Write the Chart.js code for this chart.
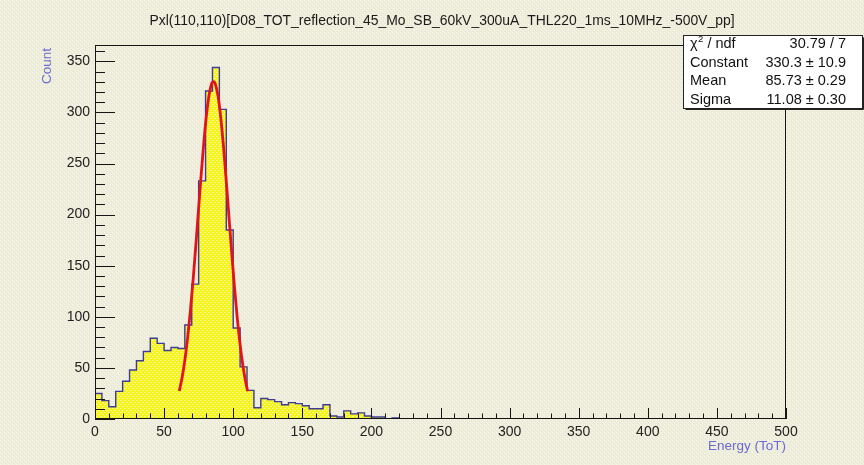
<!DOCTYPE html>
<html>
<head>
<meta charset="utf-8">
<script src="https://cdn.jsdelivr.net/npm/chart.js@4.4.1/dist/chart.umd.min.js"></script>
<style>
  html, body { margin: 0; padding: 0; background: #efeddb; }
  canvas { display: block; }
</style>
</head>
<body>
<canvas id="histo" width="864" height="465"></canvas>
<script>
// ToT spectrum, 100 bins of width 5 from 0 to 500
const binWidth = 5;
const counts = [
    25, 18, 12, 27, 37, 48, 57, 66, 79, 74,
    67, 70, 69, 92, 132, 233, 321, 344, 303, 185,
    89, 51, 28, 11, 20, 19, 17, 14, 16, 15,
    13, 10, 10, 14, 3, 2, 8, 5, 6, 3,
    2, 2, 0, 1, 0, 0, 0, 0, 0, 0,
    0, 0, 0, 0, 0, 0, 0, 0, 0, 0,
    0, 0, 0, 0, 0, 0, 0, 0, 0, 0,
    0, 0, 0, 0, 0, 0, 0, 0, 0, 0,
    0, 0, 0, 0, 0, 0, 0, 0, 0, 0,
    0, 0, 0, 0, 0, 0, 0, 0, 0, 0
];

// Gaussian fit curve (sampled)
const fitX = [61, 63, 65, 67, 69, 71, 73, 75, 77, 79, 81, 83, 85, 86, 87, 89, 91, 93, 95, 97, 99, 101, 103, 105, 107, 109, 110.5];
const fitY = [27.4, 40.3, 57.4, 79.1, 105.7, 136.5, 170.7, 206.7, 242.2, 274.7, 301.5, 320.4, 329.6, 330.2, 328.1, 316.2, 295.0, 266.3, 232.8, 196.9, 161.2, 127.8, 98.0, 72.8, 52.3, 36.4, 27.1];

const xMin = 0, xMax = 500;
const yMin = 0, yMax = 366;

const title = 'Pxl(110,110)[D08_TOT_reflection_45_Mo_SB_60kV_300uA_THL220_1ms_10MHz_-500V_pp]';
const statRows = [
    ['chi2', '30.79 / 7'],
    ['Constant', '330.3 \u00b1 10.9'],
    ['Mean', '85.73 \u00b1 0.29'],
    ['Sigma', '11.08 \u00b1 0.30']
];

const FONT = '"Liberation Sans", Arial, Helvetica, sans-serif';

// small tiled patterns for the canvas texture and the histogram fill
function makePattern(base, dots) {
    const c = document.createElement('canvas');
    c.width = 4; c.height = 4;
    const g = c.getContext('2d');
    g.fillStyle = base;
    g.fillRect(0, 0, 4, 4);
    dots.forEach(([x, y, col]) => {
        g.fillStyle = col;
        g.fillRect(x, y, 1, 1);
    });
    return document.getElementById('histo').getContext('2d').createPattern(c, 'repeat');
}

const bgPattern = makePattern('#efeddb', [
    [0, 0, '#f6f5e9'], [2, 2, '#f6f5e9'], [1, 3, '#e7e5cf'], [3, 1, '#e7e5cf']
]);
const fillPattern = makePattern('#f5f31e', [
    [0, 0, '#fbfaa6'], [2, 2, '#fbfaa6'], [1, 0, '#f8f66a'], [3, 2, '#f8f66a']
]);

// step outline points at the left edge of each bin
const histPoints = [{ x: 0, y: 0 }];
counts.forEach((c, i) => histPoints.push({ x: i * binWidth, y: c }));
histPoints.push({ x: counts.length * binWidth, y: 0 });

const fitPoints = fitX.map((x, i) => ({ x, y: fitY[i] }));

const background = {
    id: 'background',
    beforeDraw(chart) {
        const ctx = chart.ctx;
        ctx.save();
        ctx.fillStyle = bgPattern;
        ctx.fillRect(0, 0, chart.width, chart.height);
        ctx.restore();
    }
};

// frame and inward ticks, ROOT style
const frame = {
    id: 'frame',
    afterDatasetsDraw(chart) {
        const { ctx, chartArea: a, scales: { x, y } } = chart;
        ctx.save();
        ctx.strokeStyle = '#151515';
        ctx.lineWidth = 1;
        ctx.beginPath();
        for (let v = xMin; v <= xMax; v += 10) {
            const px = Math.round(x.getPixelForValue(v)) + 0.5;
            const len = v % 50 === 0 ? 11 : 5.5;
            ctx.moveTo(px, a.bottom);
            ctx.lineTo(px, a.bottom - len);
        }
        for (let v = yMin; v <= yMax; v += 10) {
            const py = Math.round(y.getPixelForValue(v)) + 0.5;
            const len = v % 50 === 0 ? 20 : 10;
            ctx.moveTo(a.left, py);
            ctx.lineTo(a.left + len, py);
        }
        ctx.stroke();
        ctx.strokeRect(a.left + 0.5, a.top + 0.5, a.right - a.left - 1, a.bottom - a.top - 1);
        ctx.restore();
    },
    afterDraw(chart) {
        const { ctx, chartArea: a } = chart;
        ctx.save();

        // title, squeezed to the width it occupies
        ctx.fillStyle = '#1a1a1a';
        ctx.font = '14px ' + FONT;
        ctx.textBaseline = 'middle';
        ctx.textAlign = 'center';
        const tw = ctx.measureText(title).width;
        const sx = Math.min(1, 585 / tw);
        ctx.save();
        ctx.translate(442, 21);
        ctx.scale(sx, 1);
        ctx.fillText(title, 0, 0);
        ctx.restore();

        // axis titles
        ctx.fillStyle = '#6a6ad2';
        ctx.font = '13.5px ' + FONT;
        ctx.textAlign = 'right';
        ctx.fillText('Energy (ToT)', a.right, 446);
        ctx.save();
        ctx.translate(47, a.top + 3);
        ctx.rotate(-Math.PI / 2);
        ctx.fillText('Count', 0, 0);
        ctx.restore();

        // fit statistics box
        const bx = 683.5, by = 35.5, bw = 179, bh = 73;
        ctx.fillStyle = '#ffffff';
        ctx.fillRect(bx, by, bw, bh);
        ctx.strokeStyle = '#222';
        ctx.lineWidth = 1;
        ctx.strokeRect(bx, by, bw, bh);
        ctx.beginPath();
        ctx.moveTo(bx + bw + 1, by + 2);
        ctx.lineTo(bx + bw + 1, by + bh + 1);
        ctx.lineTo(bx + 2, by + bh + 1);
        ctx.stroke();

        ctx.fillStyle = '#111';
        ctx.textBaseline = 'middle';
        const rowY = [44, 62.5, 81, 99.5];
        statRows.forEach(([label, value], i) => {
            ctx.font = '14.5px ' + FONT;
            ctx.textAlign = 'left';
            if (label === 'chi2') {
                ctx.fillText('\u03c7', 690, rowY[i]);
                const cw = ctx.measureText('\u03c7').width;
                ctx.font = '9.5px ' + FONT;
                ctx.fillText('2', 690 + cw + 0.5, rowY[i] - 5);
                const sw = ctx.measureText('2').width;
                ctx.font = '14.5px ' + FONT;
                ctx.fillText(' / ndf', 690 + cw + sw + 0.5, rowY[i]);
            } else {
                ctx.fillText(label, 690, rowY[i]);
            }
            ctx.textAlign = 'right';
            ctx.fillText(value, 846, rowY[i]);
        });
        ctx.restore();
    }
};

new Chart(document.getElementById('histo'), {
    type: 'line',
    data: {
        datasets: [
            {
                label: 'gaus',
                data: fitPoints,
                order: 0,
                borderColor: '#e3121b',
                borderWidth: 2.8,
                cubicInterpolationMode: 'monotone',
                fill: false,
                pointRadius: 0
            },
            {
                label: 'hist',
                data: histPoints,
                order: 1,
                stepped: true,
                borderColor: '#3c3c98',
                borderWidth: 1.4,
                backgroundColor: fillPattern,
                fill: 'origin',
                pointRadius: 0
            }
        ]
    },
    options: {
        responsive: false,
        animation: false,
        devicePixelRatio: 1,
        layout: { padding: { left: 0, top: 45, right: 78, bottom: 0 } },
        plugins: {
            legend: { display: false },
            tooltip: { enabled: false }
        },
        scales: {
            x: {
                type: 'linear',
                min: xMin,
                max: xMax,
                grid: { display: false, drawTicks: false },
                border: { display: false },
                ticks: {
                    stepSize: 50,
                    padding: 5,
                    color: '#222',
                    font: { family: FONT, size: 14 },
                    maxRotation: 0
                },
                afterFit: s => { s.height = 46; }
            },
            y: {
                type: 'linear',
                min: yMin,
                max: yMax,
                grid: { display: false, drawTicks: false },
                border: { display: false },
                ticks: {
                    stepSize: 50,
                    includeBounds: false,
                    padding: 5,
                    color: '#222',
                    font: { family: FONT, size: 14 }
                },
                afterFit: s => { s.width = 95; }
            }
        }
    },
    plugins: [background, frame]
});
</script>
</body>
</html>
